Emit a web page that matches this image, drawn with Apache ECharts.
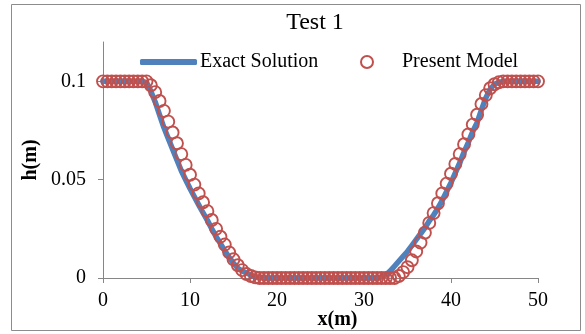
<!DOCTYPE html>
<html lang="en">
<head>
<meta charset="UTF-8">
<title>Test 1</title>
<script src="https://cdn.jsdelivr.net/npm/echarts@6/dist/echarts.min.js"></script>
<style>
html, body { margin: 0; padding: 0; background: #fff; }
#chart { width: 585px; height: 334px; }
</style>
</head>
<body>
<div id="chart"></div>
<script>
// x positions (m)
const xValues = [
0, 0.5, 1, 1.5, 2, 2.5, 3, 3.5, 4, 4.5,
5, 5.5, 6, 6.5, 7, 7.5, 8, 8.5, 9, 9.5,
10, 10.5, 11, 11.5, 12, 12.5, 13, 13.5, 14, 14.5,
15, 15.5, 16, 16.5, 17, 17.5, 18, 18.5, 19, 19.5,
20, 20.5, 21, 21.5, 22, 22.5, 23, 23.5, 24, 24.5,
25, 25.5, 26, 26.5, 27, 27.5, 28, 28.5, 29, 29.5,
30, 30.5, 31, 31.5, 32, 32.5, 33, 33.5, 34, 34.5,
35, 35.5, 36, 36.5, 37, 37.5, 38, 38.5, 39, 39.5,
40, 40.5, 41, 41.5, 42, 42.5, 43, 43.5, 44, 44.5,
45, 45.5, 46, 46.5, 47, 47.5, 48, 48.5, 49, 49.5,
50
];

// h (m) – exact solution
const exactH = [
0.1, 0.1, 0.1, 0.1, 0.1, 0.1, 0.1, 0.1, 0.1, 0.1,
0.0995, 0.095, 0.0895, 0.083, 0.0765, 0.071, 0.0655, 0.060, 0.0545, 0.050,
0.0455, 0.0413, 0.0372, 0.0332, 0.0293, 0.025, 0.021, 0.0175, 0.0138, 0.0105,
0.0075, 0.005, 0.0035, 0.0025, 0.0015, 0.0007, 0.0002, 0, 0, 0,
0, 0, 0, 0, 0, 0, 0, 0, 0, 0,
0, 0, 0, 0, 0, 0, 0, 0, 0, 0,
0, 0, 0, 0, 0.0005, 0.0015, 0.0035, 0.006, 0.0085, 0.011,
0.0135, 0.0165, 0.0195, 0.0225, 0.0255, 0.029, 0.032, 0.0355, 0.0395, 0.044,
0.0485, 0.0535, 0.0585, 0.064, 0.069, 0.0745, 0.079, 0.0855, 0.0915, 0.096,
0.0985, 0.0995, 0.1, 0.1, 0.1, 0.1, 0.1, 0.1, 0.1, 0.1,
0.1
];

// h (m) – present model
const modelH = [
0.1, 0.1, 0.1, 0.1, 0.1, 0.1, 0.1, 0.1, 0.1, 0.1,
0.1, 0.098, 0.0945, 0.09, 0.085, 0.0795, 0.074, 0.0685, 0.063, 0.0575,
0.0525, 0.0475, 0.043, 0.0385, 0.034, 0.0295, 0.025, 0.021, 0.017, 0.013,
0.0095, 0.0065, 0.004, 0.002, 0.001, 0.0003, 0, 0, 0, 0,
0, 0, 0, 0, 0, 0, 0, 0, 0, 0,
0, 0, 0, 0, 0, 0, 0, 0, 0, 0,
0, 0, 0, 0, 0, 0, 0, 0, 0.001, 0.003,
0.0055, 0.009, 0.0135, 0.018, 0.023, 0.028, 0.033, 0.038, 0.043, 0.048,
0.053, 0.058, 0.063, 0.068, 0.073, 0.078, 0.083, 0.0885, 0.093, 0.0965,
0.0985, 0.0995, 0.1, 0.1, 0.1, 0.1, 0.1, 0.1, 0.1, 0.1,
0.1
];

const xTicks = [0, 10, 20, 30, 40, 50];
const yTicks = [0, 0.05, 0.1];

const font = '"Liberation Serif", "Times New Roman", serif';
const axisGray = '#868686';
const blue = '#4F81BD';
const red = '#C0504D';

const chart = echarts.init(document.getElementById('chart'));

const option = {
animation: false,
backgroundColor: '#fff',
textStyle: { fontFamily: font, color: '#000' },
title: {
text: 'Test 1',
left: 310,
top: 6,
textAlign: 'center',
textStyle: { fontFamily: font, fontSize: 24, fontWeight: 'normal', color: '#000' }
},
legend: [{
data: [{ name: 'Exact Solution', icon: 'roundRect' }],
left: 135,
top: 47,
itemWidth: 57,
itemHeight: 6,
textStyle: { fontFamily: font, fontSize: 20, color: '#000', padding: [0, 0, 0, -2] }
}, {
data: ['Present Model'],
left: 334,
top: 47,
itemWidth: 56,
itemHeight: 15,
textStyle: { fontFamily: font, fontSize: 20, color: '#000', padding: [0, 0, 0, 2] }
}],
grid: {
left: 103,
right: 47,
top: 42,
bottom: 56,
outerBoundsMode: 'none'
},
xAxis: {
type: 'value',
min: 0,
max: 50,
interval: 10,
name: 'x(m)',
nameLocation: 'middle',
nameGap: 32,
nameMoveOverlap: false,
nameTextStyle: { fontFamily: font, fontSize: 20, fontWeight: 'bold', color: '#000', padding: [0, 0, 0, 34] },
axisLine: { lineStyle: { color: axisGray, width: 1 } },
axisTick: { length: 5, lineStyle: { color: axisGray }, customValues: xTicks },
axisLabel: { fontFamily: font, fontSize: 20, color: '#000', margin: 13, customValues: xTicks },
splitLine: { show: false }
},
yAxis: {
type: 'value',
min: 0,
max: 0.12,
interval: 0.05,
name: 'h(m)',
nameLocation: 'middle',
nameRotate: 90,
nameGap: 62,
nameMoveOverlap: false,
nameTextStyle: { fontFamily: font, fontSize: 20, fontWeight: 'bold', color: '#000' },
axisLine: { show: true, lineStyle: { color: axisGray, width: 1 } },
axisTick: { show: true, length: 5, lineStyle: { color: axisGray }, customValues: yTicks },
axisLabel: { fontFamily: font, fontSize: 20, color: '#000', margin: 17, customValues: yTicks },
splitLine: { show: false }
},
series: [{
name: 'Exact Solution',
type: 'line',
data: xValues.map((x, i) => [x, exactH[i]]),
symbol: 'none',
clip: false,
lineStyle: { color: blue, width: 5.5, cap: 'round', join: 'round' },
itemStyle: { color: blue },
z: 2
}, {
name: 'Present Model',
type: 'line',
data: xValues.map((x, i) => [x, modelH[i]]),
symbol: 'circle',
symbolSize: 12,
showAllSymbol: true,
clip: false,
lineStyle: { width: 0, color: red },
itemStyle: { color: 'rgba(0,0,0,0)', borderColor: red, borderWidth: 1.9 },
z: 3
}],
graphic: [{
type: 'rect',
shape: { x: 11.5, y: 4.5, width: 569, height: 326 },
style: { fill: 'none', stroke: '#8c8c8c', lineWidth: 1 },
silent: true,
z: -1
}]
};

chart.setOption(option);
</script>
</body>
</html>
